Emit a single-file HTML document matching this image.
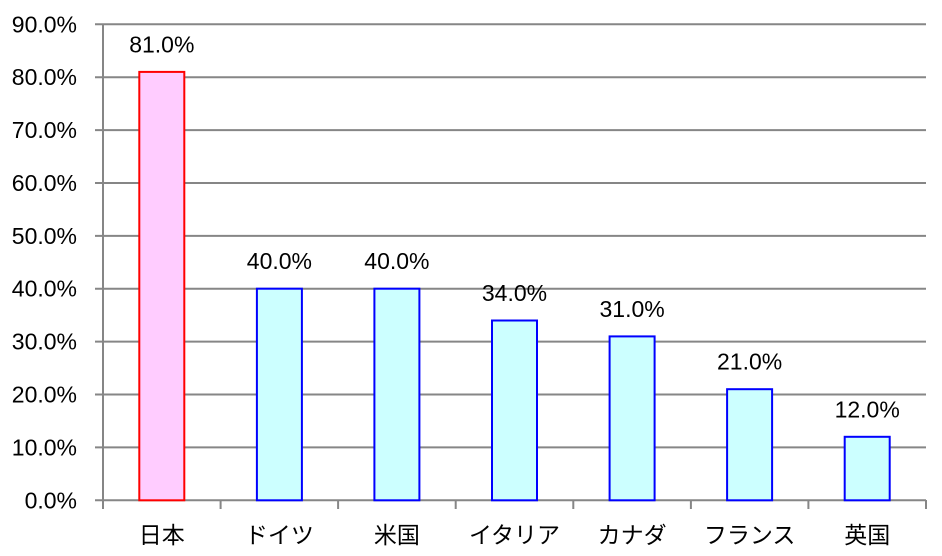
<!DOCTYPE html>
<html>
<head>
<meta charset="utf-8">
<style>
html,body{margin:0;padding:0;background:#fff;}
svg{display:block;}
text{font-family:"Liberation Sans","Noto Sans CJK JP",sans-serif;fill:#000;}
</style>
</head>
<body>
<svg width="942" height="556" viewBox="0 0 942 556" xmlns="http://www.w3.org/2000/svg">
<g stroke="#868686" stroke-width="2">
<line x1="95" y1="24.3" x2="926" y2="24.3"/>
<line x1="95" y1="77.2" x2="926" y2="77.2"/>
<line x1="95" y1="130.1" x2="926" y2="130.1"/>
<line x1="95" y1="183" x2="926" y2="183"/>
<line x1="95" y1="235.9" x2="926" y2="235.9"/>
<line x1="95" y1="288.7" x2="926" y2="288.7"/>
<line x1="95" y1="341.6" x2="926" y2="341.6"/>
<line x1="95" y1="394.5" x2="926" y2="394.5"/>
<line x1="95" y1="447.4" x2="926" y2="447.4"/>
<line x1="95" y1="500.3" x2="926" y2="500.3"/>
<line x1="103" y1="24" x2="103" y2="509"/>
<line x1="220.6" y1="500" x2="220.6" y2="509"/>
<line x1="338.1" y1="500" x2="338.1" y2="509"/>
<line x1="455.7" y1="500" x2="455.7" y2="509"/>
<line x1="573.3" y1="500" x2="573.3" y2="509"/>
<line x1="690.9" y1="500" x2="690.9" y2="509"/>
<line x1="808.4" y1="500" x2="808.4" y2="509"/>
<line x1="926" y1="500" x2="926" y2="509"/>
</g>
<g stroke-width="2">
<rect x="139.3" y="71.9" width="45" height="428.4" fill="#FFCCFF" stroke="#FF0000"/>
<rect x="256.9" y="288.7" width="45" height="211.6" fill="#CCFFFF" stroke="#0000FF"/>
<rect x="374.4" y="288.7" width="45" height="211.6" fill="#CCFFFF" stroke="#0000FF"/>
<rect x="492" y="320.5" width="45" height="179.8" fill="#CCFFFF" stroke="#0000FF"/>
<rect x="609.6" y="336.4" width="45" height="163.9" fill="#CCFFFF" stroke="#0000FF"/>
<rect x="727.1" y="389.2" width="45" height="111.1" fill="#CCFFFF" stroke="#0000FF"/>
<rect x="844.7" y="436.8" width="45" height="63.5" fill="#CCFFFF" stroke="#0000FF"/>
</g>
<g font-size="23" text-anchor="end">
<text x="77" y="32.3">90.0%</text>
<text x="77" y="85.2">80.0%</text>
<text x="77" y="138.1">70.0%</text>
<text x="77" y="191">60.0%</text>
<text x="77" y="243.9">50.0%</text>
<text x="77" y="296.7">40.0%</text>
<text x="77" y="349.6">30.0%</text>
<text x="77" y="402.5">20.0%</text>
<text x="77" y="455.4">10.0%</text>
<text x="77" y="508.3">0.0%</text>
</g>
<g font-size="23" text-anchor="middle">
<text x="161.8" y="52.4">81.0%</text>
<text x="279.4" y="269.2">40.0%</text>
<text x="396.9" y="269.2">40.0%</text>
<text x="514.5" y="301">34.0%</text>
<text x="632.1" y="316.9">31.0%</text>
<text x="749.6" y="369.7">21.0%</text>
<text x="867.2" y="417.3">12.0%</text>
</g>
<g font-size="23" text-anchor="middle">
<text x="161.8" y="543">日本</text>
<text x="279.4" y="543">ドイツ</text>
<text x="396.9" y="543">米国</text>
<text x="514.5" y="543">イタリア</text>
<text x="632.1" y="543">カナダ</text>
<text x="749.6" y="543">フランス</text>
<text x="867.2" y="543">英国</text>
</g>
</svg>
</body>
</html>
